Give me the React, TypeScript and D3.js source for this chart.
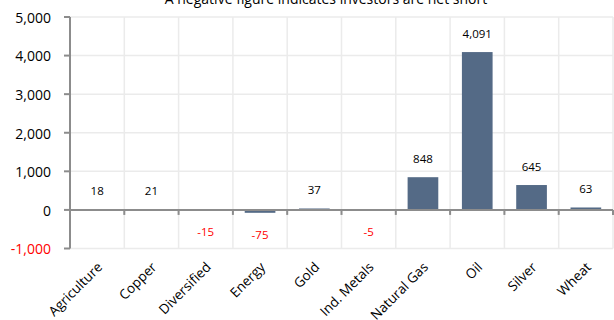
import React from "react";
import * as d3 from "d3";

const categories = ["Agriculture", "Copper", "Diversified", "Energy", "Gold", "Ind. Metals", "Natural Gas", "Oil", "Silver", "Wheat"];
const values = [18, 21, -15, -75, 37, -5, 848, 4091, 645, 63];
const yTicks = [-1000, 0, 1000, 2000, 3000, 4000, 5000];
const title = "A negative figure indicates investors are net short";

const W = 614;
const H = 320;
const FONT = "'Open Sans', 'DejaVu Sans', sans-serif";

export default function App() {
  const x = d3.scaleBand<string>().domain(categories).range([70, 613]).padding(0);
  const y = d3.scaleLinear().domain([-1000, 5000]).range([248.5, 17]);
  const locale = d3.formatLocale({ decimal: ".", thousands: ",", grouping: [3], currency: ["", ""], minus: "-" });
  const fmt = locale.format(",");
  const bw = x.bandwidth() * 0.565;
  const y0 = y(0);
  const bounds = categories.map((c) => x(c) as number).concat([613]);

  return (
    <svg width={W} height={H} style={{ position: "absolute", left: 0, top: 0, background: "#fff" }}>
      <text x={326} y={4} textAnchor="middle" fontFamily={FONT} fontSize={14} fill="#000">{title}</text>
      {/* horizontal gridlines */}
      {yTicks.map((t) => (
        <line key={"h" + t} x1={70} x2={613} y1={y(t)} y2={y(t)} stroke="#ebebeb" strokeWidth={1.5} />
      ))}
      {/* vertical gridlines */}
      {bounds.slice(1).map((b, i) => (
        <line key={"v" + i} x1={b} x2={b} y1={y(5000)} y2={y(-1000)} stroke="#ebebeb" strokeWidth={1.5} />
      ))}
      {/* bars */}
      {categories.map((c, i) => {
        const v = values[i];
        const cx = (x(c) as number) + x.bandwidth() / 2;
        return (
          <rect key={c} x={cx - bw / 2} y={Math.min(y(v), y0)} width={bw} height={Math.abs(y(v) - y0)} fill="#546a86" />
        );
      })}
      {/* x axis at zero */}
      <line x1={70} x2={613} y1={y0} y2={y0} stroke="#8c8c8c" strokeWidth={2} />
      {bounds.slice(1).map((b, i) => (
        <line key={"xt" + i} x1={b} x2={b} y1={y0} y2={y0 + 5} stroke="#8c8c8c" strokeWidth={2} />
      ))}
      {/* y axis */}
      <line x1={70} x2={70} y1={y(5000)} y2={y(-1000)} stroke="#8c8c8c" strokeWidth={2} />
      {yTicks.map((t) => (
        <line key={"yt" + t} x1={64} x2={70} y1={y(t)} y2={y(t)} stroke="#8c8c8c" strokeWidth={2} />
      ))}
      {yTicks.map((t) => (
        <text key={"yl" + t} x={51} y={y(t) + 1} dy="0.35em" textAnchor="end" fontFamily={FONT} fontSize={14} fill={t < 0 ? "#ff0000" : "#000"}>
          {fmt(t)}
        </text>
      ))}
      {/* value labels */}
      {categories.map((c, i) => {
        const v = values[i];
        const cx = (x(c) as number) + x.bandwidth() / 2;
        const ly = v >= 0 ? y(v) - 14.5 : y(v) + 26;
        return (
          <text key={"vl" + c} x={cx} y={ly} textAnchor="middle" fontFamily={FONT} fontSize={11.5} fill={v < 0 ? "#ff0000" : "#000"}>
            {fmt(v)}
          </text>
        );
      })}
      {/* category labels */}
      {categories.map((c) => {
        const cx = (x(c) as number) + x.bandwidth() / 2;
        const lx = cx + 6;
        const ly = 268;
        return (
          <text key={"cl" + c} x={lx} y={ly} transform={`rotate(-45 ${lx} ${ly})`} textAnchor="end" fontFamily={FONT} fontSize={13.5} fill="#000">
            {c}
          </text>
        );
      })}
    </svg>
  );
}
